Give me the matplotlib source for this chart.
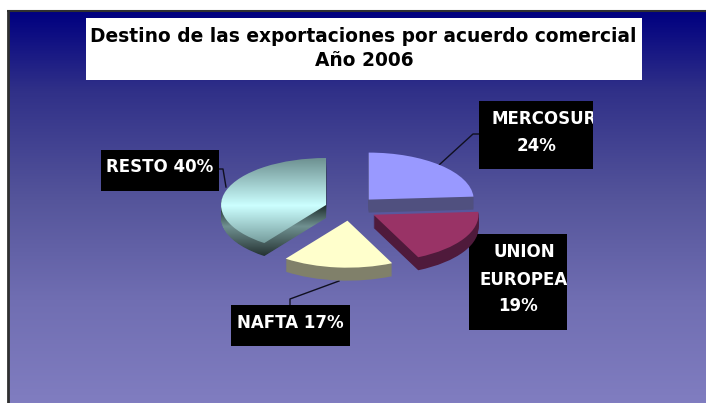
import numpy as np
import matplotlib
matplotlib.use('Agg')
import matplotlib.pyplot as plt
from matplotlib.patches import Rectangle, PathPatch
from matplotlib.path import Path

W, H = 706, 403

categories = ['MERCOSUR', 'UNION EUROPEA', 'NAFTA', 'RESTO']
values = [24, 19, 17, 40]
title_lines = ['Destino de las exportaciones por acuerdo comercial', 'Año 2006']

top_colors = ['#9999ff', '#993366', '#ffffcc', '#ccffff']
side_colors = ['#50507f', '#4f1a3b', '#80806a', '#5f8080']

fig = plt.figure(figsize=(W / 100, H / 100), dpi=100, facecolor='white')

# background axes works in pixels of the picture
bg = fig.add_axes([0, 0, 1, 1])
bg.set_xlim(0, W)
bg.set_ylim(H, 0)
bg.axis('off')


def vgrad(ys, stops, cols):
    cols = np.array(cols, dtype=float) / 255
    return np.stack([np.interp(ys, stops, cols[:, i]) for i in range(3)], axis=1)[:, None, :]


ys = np.linspace(11, H, 200)
bg.imshow(vgrad(ys, [11, 90, 200, 300, 403],
                [(0, 0, 128), (48, 48, 136), (85, 85, 155), (112, 110, 178), (128, 125, 192)]),
          extent=(8, W, H, 11), aspect='auto', zorder=0)
bg.set_xlim(0, W)
bg.set_ylim(H, 0)
bg.plot([8, 8], [H, 10.5], color='#303030', lw=2, zorder=1, solid_capstyle='butt')
bg.plot([7, W], [10.5, 10.5], color='#303030', lw=1.5, zorder=1, solid_capstyle='butt')

# title box
title_font = dict(color='black', fontsize=13.4, fontweight='bold', ha='center', va='center', zorder=3)
bg.add_patch(Rectangle((86, 18), 556, 62, fc='white', ec='none', zorder=2))
bg.text(363.5, 36, title_lines[0], **title_font)
bg.text(364, 61, title_lines[1], **title_font)

# pie axes, squashed: 1 data unit = 105 px across, 47 px high
RX, RY = 105, 47
cx, cy = 350, 208.5
ax = fig.add_axes([(cx - 2 * RX) / W, 1 - (cy + 2 * RY) / H, 4 * RX / W, 4 * RY / H])
ax.patch.set_alpha(0)
explode = [0.26, 0.26, 0.26, 0.24]
depth = 13


def draw_pie(dy, colors, z):
    wedges, _ = ax.pie(values, explode=explode, colors=colors, startangle=90, counterclock=False,
                       radius=1, center=(0, -dy / RY), wedgeprops={'linewidth': 0})
    for w in wedges:
        w.set_zorder(z)
    return wedges


resto_layers = []
for d in range(depth, 0, -1):
    layer = draw_pie(d, side_colors, 2)
    layer[3].set_visible(False)
    resto_layers.append(layer[3])
tops = draw_pie(0, top_colors, 4)
tops[3].set_facecolor('none')
ax.set_aspect('auto')
ax.set_xlim(-2, 2)
ax.set_ylim(-2, 2)
ax.axis('off')

# resto has gradients instead of flat colours
side_path = Path.make_compound_path(
    *[w.get_patch_transform().transform_path(w.get_path()) for w in resto_layers])
side_clip = PathPatch(side_path, transform=ax.transData, fc='none', ec='none')
ax.add_patch(side_clip)
py = np.linspace(2, -2, 300)
side_img = ax.imshow(vgrad(cy - py * RY, [205, 226, 258], [(30, 45, 45), (112, 145, 145), (30, 42, 42)]),
                     extent=(-2, 2, -2, 2), aspect='auto', origin='upper', zorder=3)
side_img.set_clip_path(side_clip)
top_img = ax.imshow(vgrad(cy - py * RY, [159, 205, 245], [(112, 148, 148), (204, 255, 255), (112, 150, 150)]),
                    extent=(-2, 2, -2, 2), aspect='auto', origin='upper', zorder=4)
top_img.set_clip_path(tops[3])
ax.set_xlim(-2, 2)
ax.set_ylim(-2, 2)

# leader lines
for xs, yy in [([439, 473, 479], [165, 134, 134]),
               ([219, 223, 226], [169, 169, 187]),
               ([290, 290, 339], [305, 299, 281])]:
    bg.plot(xs, yy, color='#101020', lw=1, zorder=1.5)

# black label boxes
boxes = [(479, 101, 114, 68), (469, 234, 98, 96), (231, 305, 119, 41), (101, 150, 118, 41)]
for b in boxes:
    bg.add_patch(Rectangle(b[:2], b[2], b[3], fc='black', ec='none', zorder=2))

label_font = dict(color='white', fontsize=12, ha='center', va='center', zorder=3, fontweight='bold')
# the two long names run up to the edge of their box
merc = bg.text(544, 119, categories[0], clip_on=True, **label_font)
merc.set_clip_path(Rectangle((479, 101), 114, 68, transform=bg.transData))
bg.text(537, 146, f'{values[0]}%', **label_font)
union, europea = categories[1].split()
bg.text(524, 252, union, **label_font)
eu = bg.text(524, 280, europea, clip_on=True, **label_font)
eu.set_clip_path(Rectangle((469, 234), 98, 96, transform=bg.transData))
bg.text(518, 306, f'{values[1]}%', **label_font)
bg.text(290.5, 323, f'{categories[2]} {values[2]}%', **label_font)
bg.text(159.5, 167, f'{categories[3]} {values[3]}%', **label_font)

fig.savefig('out.png', dpi=100)
